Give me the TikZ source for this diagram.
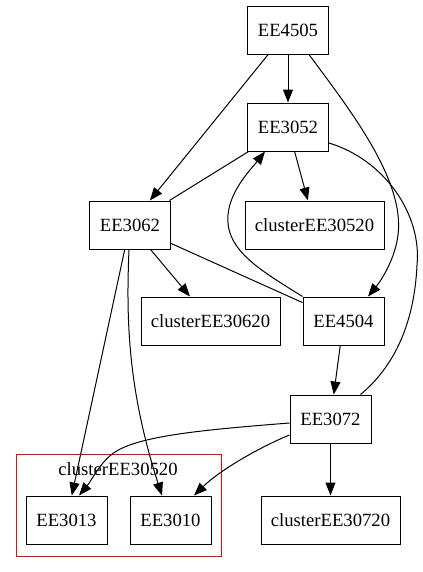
\documentclass[tikz,border=0pt]{standalone}
\usepackage{fontspec}
\setmainfont{Liberation Serif}
\usetikzlibrary{arrows.meta,calc}
\begin{document}
\begin{tikzpicture}[x=0.75pt,y=-0.75pt,
  box/.style={draw,line width=0.75pt,rectangle,minimum width=60.75pt,minimum height=36pt,inner sep=0pt,font=\fontsize{14}{17}\selectfont},
  wbox/.style={box,minimum width=104.25pt},
  edge/.style={line width=0.75pt,-{Triangle[length=9.75pt,width=7.5pt]}},
  plain/.style={line width=0.75pt}]
\useasboundingbox (0,0) rectangle (422,572);
% cluster
\draw[red,line width=0.75pt] (16,454) rectangle (221,556);
\node[font=\fontsize{14}{17}\selectfont,inner sep=0pt] (cl) at (118,469) {clusterEE30520};
% nodes
\node[box] (EE4505) at (288,30) {EE4505};
\node[box] (EE3052) at (288,127) {EE3052};
\node[box] (EE3062) at (130,225) {EE3062};
\node[wbox] (C30520) at (314.5,225) {clusterEE30520};
\node[wbox] (C30620) at (210.5,321) {clusterEE30620};
\node[box] (EE4504) at (343.5,321) {EE4504};
\node[box] (EE3072) at (330.5,419) {EE3072};
\node[box] (EE3013) at (66.5,520) {EE3013};
\node[box] (EE3010) at (170.5,520) {EE3010};
\node[wbox] (C30720) at (330.5,520) {clusterEE30720};
% straight edges
\draw[edge] (EE4505) -- (EE3052);
\draw[edge] (EE4505) -- (EE3062);
\draw[edge] (EE3052) -- (C30520);
\draw[plain] (EE3062) -- (EE3052);
\draw[plain] (EE3062) -- (EE4504);
\draw[edge] (EE3062) -- (C30620);
\draw[edge] (EE4504) -- (EE3072);
\draw[edge] (EE3062) -- (EE3013);
\draw[edge] (EE3072) -- (C30720);
% curved edges
\draw[edge] ($(EE4505.south)+(21,0)$) .. controls (350,110) and (405,180) .. (398,235)
  .. controls (395,260) and (380,282) .. ($(EE4504.north)+(24.5,0)$);
\draw[plain] ($(EE3052.east)+(0,16)$) .. controls (385,160) and (422,215) .. (417,265)
  .. controls (414,330) and (390,370) .. ($(EE3072.north)+(30,0)$);
\draw[edge] (EE4504.north west) .. controls (260,270) and (225,250) .. (228,215)
  .. controls (230,190) and (252,168) .. ($(EE3052.south)+(-23,0)$);
\draw[edge] ($(EE3062.south)+(-1,0)$) .. controls (126,320) and (128,390) .. ($(EE3010.north)+(-8.5,0)$);
\draw[edge] ($(EE3072.west)+(0,4)$) .. controls (200,430) and (140,436) .. (115,452)
  .. controls (100,462) and (92,480) .. ($(EE3013.north)+(12.5,0)$);
\draw[edge] ($(EE3072.west)+(0,16)$) .. controls (260,447) and (220,470) .. ($(EE3010.north)+(23.5,0)$);
\end{tikzpicture}
\end{document}
